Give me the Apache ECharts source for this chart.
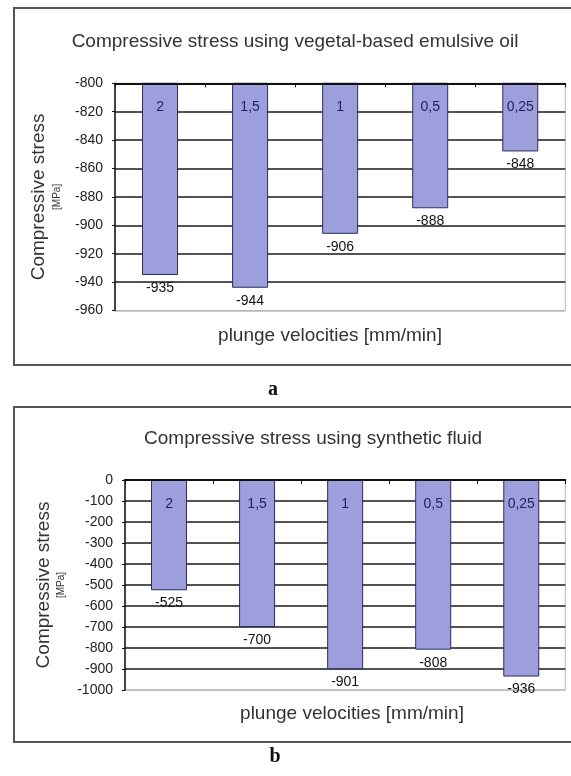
<!DOCTYPE html>
<html>
<head>
<meta charset="utf-8">
<script src="https://cdn.jsdelivr.net/npm/echarts@6/dist/echarts.min.js"></script>
<style>
html,body{margin:0;padding:0;background:#fff;}
#chart{width:571px;height:776px;}
</style>
</head>
<body>
<div id="chart"></div>
<script>
// Data
const categories = ['2', '1,5', '1', '0,5', '0,25'];
const stressVegetal = [-935, -944, -906, -888, -848];
const stressSynthetic = [-525, -700, -901, -808, -936];
const titleA = 'Compressive stress using vegetal-based emulsive oil';
const titleB = 'Compressive stress using synthetic fluid';
const xName = 'plunge velocities [mm/min]';
const yNameMain = 'Compressive stress';
const yNameUnit = '[MPa]';

const FONT = 'Liberation Sans, Arial, sans-serif';
const chart = echarts.init(document.getElementById('chart'));

function makeX(gridIndex) {
  return {
    type: 'category', gridIndex: gridIndex, data: categories, position: 'top', z: 5,
    axisLine: {onZero: false, lineStyle: {color: '#111', width: 2}},
    axisTick: {show: true, inside: true, length: 4, alignWithLabel: false, lineStyle: {color: '#111'}},
    axisLabel: {inside: true, margin: 17, color: '#23235e', fontSize: 14, fontFamily: FONT},
    splitLine: {show: false}
  };
}
function makeY(gridIndex, min, max, interval, nameGap, nLines) {
  const colors = ['#b8b8b8'];
  for (let i = 1; i < nLines; i++) colors.push('#1a1a1a');
  return {
    type: 'value', gridIndex: gridIndex, min: min, max: max, interval: interval,
    name: '{a|' + yNameMain + '}\n{b|' + yNameUnit + '}',
    nameLocation: 'middle', nameRotate: 90, nameGap: nameGap,
    nameTextStyle: {
      rich: {
        a: {fontSize: 19, lineHeight: 22, color: '#333', fontFamily: FONT},
        b: {fontSize: 10, lineHeight: 14, color: '#333', fontFamily: FONT}
      }
    },
    axisLine: {show: true, lineStyle: {color: '#111', width: 1.5}},
    axisTick: {show: true, length: 3, lineStyle: {color: '#111'}},
    axisLabel: {color: '#222', fontSize: 14, fontFamily: FONT, margin: 12,
                formatter: function (v) { return String(v); }},
    splitLine: {show: true, lineStyle: {color: colors, width: 1.6}}
  };
}
function makeSeries(idx, data) {
  return {
    type: 'bar', xAxisIndex: idx, yAxisIndex: idx, data: data, barWidth: 36, clip: true,
    itemStyle: {color: '#9c9fdc', borderColor: '#2e2e5c', borderWidth: 1},
    label: {show: true, position: 'bottom', distance: 6, color: '#111', fontSize: 14, fontFamily: FONT}
  };
}

chart.setOption({
  animation: false,
  backgroundColor: '#fff',
  title: [
    {text: titleA, left: 295, top: 32, textAlign: 'center', padding: 0,
     textStyle: {fontSize: 19, fontWeight: 'normal', color: '#333', fontFamily: FONT}},
    {text: xName, left: 330, top: 326, textAlign: 'center', padding: 0,
     textStyle: {fontSize: 19, fontWeight: 'normal', color: '#333', fontFamily: FONT}},
    {text: 'a', left: 273, top: 380, textAlign: 'center', padding: 0,
     textStyle: {fontSize: 20, fontWeight: 'bold', color: '#111', fontFamily: 'Liberation Serif, Times New Roman, serif'}},
    {text: titleB, left: 313, top: 429, textAlign: 'center', padding: 0,
     textStyle: {fontSize: 19, fontWeight: 'normal', color: '#333', fontFamily: FONT}},
    {text: xName, left: 352, top: 704, textAlign: 'center', padding: 0,
     textStyle: {fontSize: 19, fontWeight: 'normal', color: '#333', fontFamily: FONT}},
    {text: 'b', left: 275, top: 747, textAlign: 'center', padding: 0,
     textStyle: {fontSize: 20, fontWeight: 'bold', color: '#111', fontFamily: 'Liberation Serif, Times New Roman, serif'}}
  ],
  graphic: [
    {type: 'rect', shape: {x: 14, y: 8, width: 600, height: 357}, style: {fill: 'none', stroke: '#555', lineWidth: 2}, z: -1},
    {type: 'rect', shape: {x: 14, y: 407, width: 600, height: 335}, style: {fill: 'none', stroke: '#555', lineWidth: 2}, z: -1}
  ],
  grid: [
    {left: 115, top: 83.3, right: 5.7, height: 227.2, show: true, borderColor: '#b8b8b8', borderWidth: 1, backgroundColor: 'transparent'},
    {left: 125, top: 480, right: 5.7, height: 210, show: true, borderColor: '#b8b8b8', borderWidth: 1, backgroundColor: 'transparent'}
  ],
  xAxis: [makeX(0), makeX(1)],
  yAxis: [makeY(0, -960, -800, 20, 51, 9), makeY(1, -1000, 0, 100, 56, 11)],
  series: [makeSeries(0, stressVegetal), makeSeries(1, stressSynthetic)]
});
</script>
</body>
</html>
